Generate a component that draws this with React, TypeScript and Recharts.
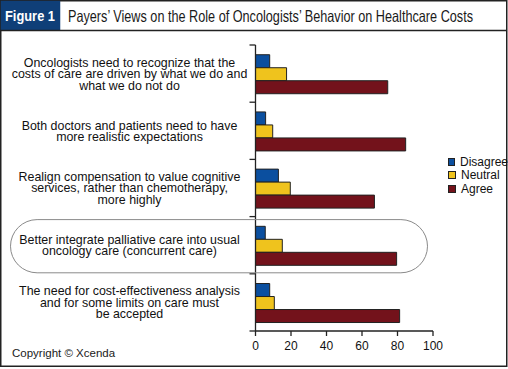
import React from "react";
import { BarChart, Bar, XAxis, YAxis, Legend } from "recharts";

const categories = [
  "Oncologists need to recognize that the\ncosts of care are driven by what we do and\nwhat we do not do",
  "Both doctors and patients need to have\nmore realistic expectations",
  "Realign compensation to value cognitive\nservices, rather than chemotherapy,\nmore highly",
  "Better integrate palliative care into usual\noncology care (concurrent care)",
  "The need for cost-effectiveness analysis\nand for some limits on care must\nbe accepted",
];
const disagree = [8, 5.7, 12.9, 5.5, 8];
const neutral = [17.5, 9.7, 19.6, 15.1, 10.6];
const agree = [74.5, 84.6, 67, 79.5, 81.2];
const xTicks = [0, 20, 40, 60, 80, 100];
const seriesNames = ["Disagree", "Neutral", "Agree"];
const seriesColors = ["#0b4f9f", "#efc31d", "#73121b"];

const data = categories.map((c, i) => ({
  cat: c,
  Disagree: disagree[i],
  Neutral: neutral[i],
  Agree: agree[i],
}));

const W = 508;
const H = 369;
const M = { top: 45, right: 75, bottom: 0, left: 0 };
const Y_W = 255.5;
const X_H = 38;
const PLOT_H = H - M.top - M.bottom - X_H;
const BAND = PLOT_H / categories.length;
const FONT = "'Liberation Sans', Arial, Helvetica, sans-serif";

const CatTick = (props: any) => {
  const { x, y, payload, index } = props;
  const lines: string[] = String(payload.value).split("\n");
  const lh = 11.5;
  const startY = y - ((lines.length - 1) * lh) / 2;
  const cx = x - 126;
  return (
    <g>
      <line x1={x} x2={x - 6} y1={y - BAND / 2} y2={y - BAND / 2} stroke="#222" strokeWidth={1.3} />
      {index === categories.length - 1 && (
        <line x1={x} x2={x - 6} y1={y + BAND / 2} y2={y + BAND / 2} stroke="#222" strokeWidth={1.3} />
      )}
      <text textAnchor="middle" fontSize={12.4} fill="#111" fontFamily={FONT}>
        {lines.map((l, i) => (
          <tspan key={i} x={cx} y={startY + i * lh} dy="0.36em">
            {l}
          </tspan>
        ))}
      </text>
    </g>
  );
};

const LegendContent = (props: any) => {
  const payload = [...(props.payload || [])].sort(
    (a: any, b: any) => seriesNames.indexOf(a.value) - seriesNames.indexOf(b.value)
  );
  return (
    <div style={{ fontFamily: FONT, fontSize: 12, color: "#111" }}>
      {payload.map((p: any, i: number) => (
        <div key={i} style={{ display: "flex", alignItems: "center", height: 13.5 }}>
          <span
            style={{
              display: "inline-block",
              width: 6,
              height: 6,
              background: p.color,
              border: "1px solid #222",
              marginRight: 5,
            }}
          />
          <span>{p.value}</span>
        </div>
      ))}
    </div>
  );
};

export default function App() {
  const plotLeft = M.left + Y_W;
  const bandTop = (i: number) => M.top + i * BAND;
  return (
    <div style={{ position: "absolute", left: 0, top: 0, width: W, height: H, background: "#fff" }}>
      <svg width={W} height={H} style={{ position: "absolute", left: 0, top: 0 }}>
        <rect x={0.75} y={0.75} width={W - 2} height={365.5} fill="#fff" stroke="#222" strokeWidth={1.5} />
        <rect x={0.75} y={0.75} width={59.5} height={29.5} fill="#0f3f78" />
        <line x1={0} x2={W - 1} y1={30.5} y2={30.5} stroke="#222" strokeWidth={1.3} />
        <text x={5} y={20.5} fill="#fff" fontSize={15.5} fontWeight="bold" fontFamily="'Liberation Sans Narrow', 'Liberation Sans', Arial, sans-serif" textLength={50} lengthAdjust="spacingAndGlyphs">
          Figure 1
        </text>
        <text x={68} y={21.5} fill="#1a1a1a" fontSize={16.5} fontFamily="'Liberation Sans Narrow', 'Liberation Sans', Arial, sans-serif" textLength={405} lengthAdjust="spacingAndGlyphs">
          Payers’ Views on the Role of Oncologists’ Behavior on Healthcare Costs
        </text>
        <text x={12} y={357} fill="#1a1a1a" fontSize={11.5} fontFamily={FONT}>
          Copyright © Xcenda
        </text>
      </svg>
      <div style={{ position: "absolute", left: 0, top: 0 }}>
        <BarChart
          width={W}
          height={H}
          data={data}
          layout="vertical"
          margin={M}
          barCategoryGap="17%"
          barGap={0}
        >
          <XAxis
            type="number"
            domain={[0, 100]}
            ticks={xTicks}
            height={X_H}
            tickSize={5}
            tickMargin={5}
            axisLine={{ stroke: "#222", strokeWidth: 1.3 }}
            tickLine={{ stroke: "#222", strokeWidth: 1.3 }}
            tick={{ fontSize: 12, fill: "#111", fontFamily: FONT }}
            allowDataOverflow
          />
          <YAxis
            type="category"
            dataKey="cat"
            width={Y_W}
            tickSize={0}
            tickMargin={0}
            tickLine={false}
            axisLine={{ stroke: "#222", strokeWidth: 1.3 }}
            tick={<CatTick />}
            interval={0}
          />
          <Legend
            layout="vertical"
            align="center"
            verticalAlign="middle"
            content={<LegendContent />}
            wrapperStyle={{ position: "absolute", left: 448, top: 155, width: 60 }}
          />
          {seriesNames.map((s, i) => (
            <Bar
              key={s}
              dataKey={s}
              fill={seriesColors[i]}
              stroke="#222"
              strokeWidth={1}
              isAnimationActive={false}
            />
          ))}
        </BarChart>
      </div>
      <svg width={W} height={H} style={{ position: "absolute", left: 0, top: 0, pointerEvents: "none" }}>
        <rect
          x={10.5}
          y={bandTop(3) + 3}
          width={plotLeft + 172 - 10.5}
          height={BAND - 4}
          rx={(BAND - 4) / 2}
          ry={(BAND - 4) / 2}
          fill="none"
          stroke="#8a8a8a"
          strokeWidth={1}
        />
      </svg>
    </div>
  );
}
